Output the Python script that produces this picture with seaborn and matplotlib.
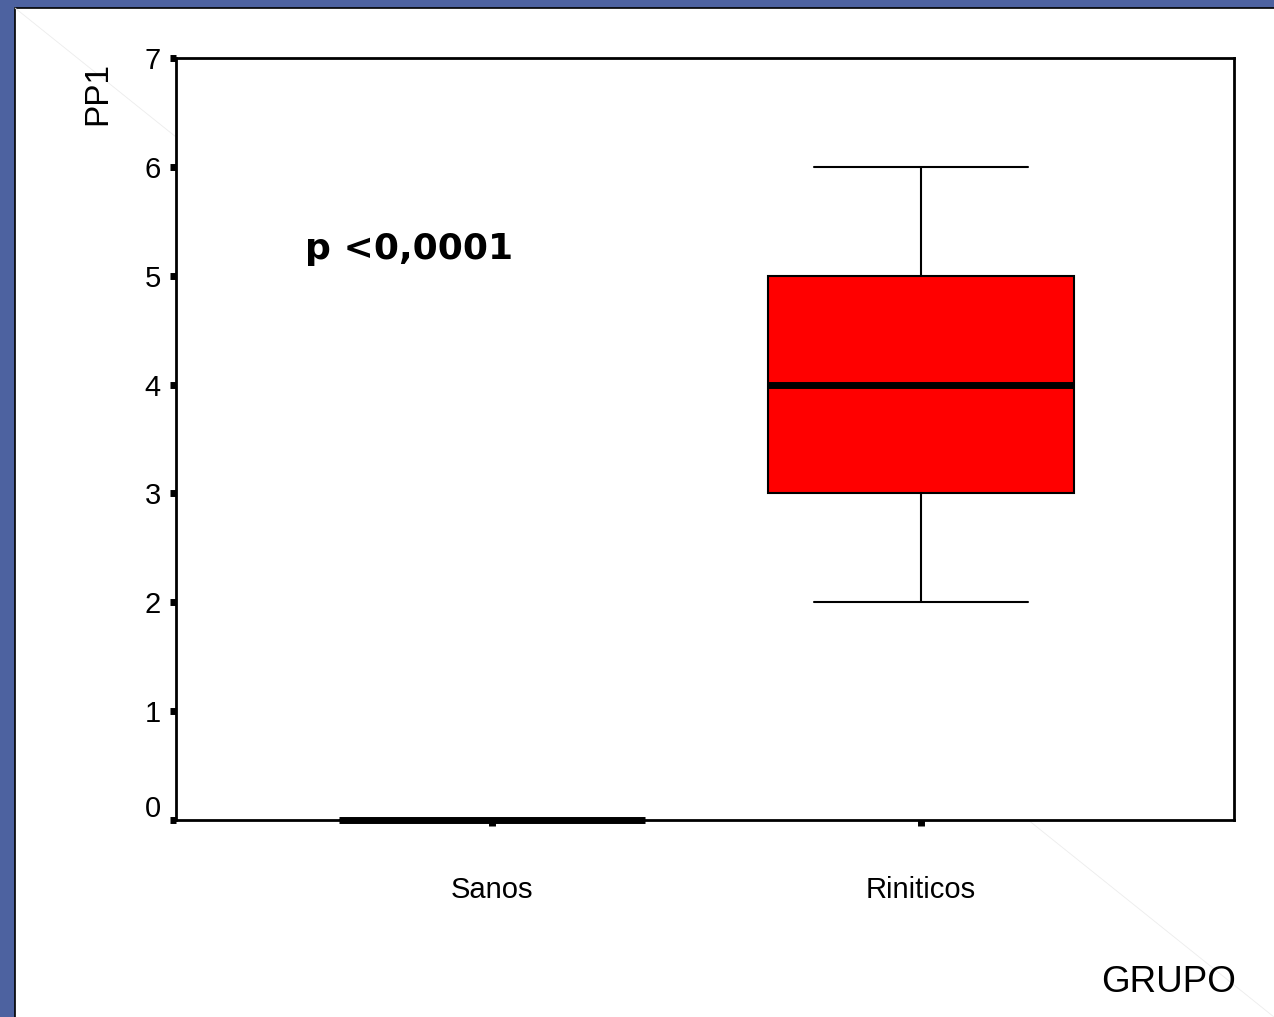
import numpy as np
import pandas as pd
import matplotlib
matplotlib.use("Agg")
import matplotlib.pyplot as plt
import matplotlib.transforms as mtransforms
from matplotlib.patches import Rectangle
from matplotlib.lines import Line2D
import seaborn as sns

# data
groups = ["Sanos", "Riniticos"]
sanos_pp1 = [0, 0, 0, 0, 0, 0, 0, 0, 0]
riniticos_pp1 = [2, 3, 3, 4, 4, 4, 5, 5, 6]
y_ticks = [0, 1, 2, 3, 4, 5, 6, 7]
p_text = "p <0,0001"

df = pd.DataFrame({
    "GRUPO": [groups[0]] * len(sanos_pp1) + [groups[1]] * len(riniticos_pp1),
    "PP1": sanos_pp1 + riniticos_pp1,
})

sns.set_style("white")
plt.rcParams["font.family"] = ["Liberation Sans", "DejaVu Sans"]

W, H = 1274, 1017
fig = plt.figure(figsize=(W / 100, H / 100), dpi=100)
fig.patch.set_facecolor("#4d62a0")

# white slide area with thin black edge on left/top
fig.patches.append(Rectangle((15 / W, -0.01), 1.0, 1 - 8 / H + 0.01,
                             transform=fig.transFigure, facecolor="white",
                             edgecolor="black", linewidth=1.2, zorder=0))
# faint diagonal artefact of the slide
fig.add_artist(Line2D([15 / W, 1.0], [1 - 8 / H, 0.0], color="#ececec",
                      lw=0.6, zorder=1))

ax = fig.add_axes([176 / W, 1 - 820 / H, (1234 - 176) / W, (820 - 58) / H])
ax.set_zorder(3)
ax.set_facecolor("white")

sns.boxplot(data=df, x="GRUPO", y="PP1", order=groups, color="#ff0000",
            saturation=1, width=0.713, linecolor="black", linewidth=1.5,
            fliersize=0, capwidths=0.5, medianprops={"linewidth": 5}, ax=ax)

# the collapsed Sanos box sits on the axis line, let it overlap the spine
for art in ax.lines + ax.patches:
    art.set_clip_on(False)

ax.set_xlim(-0.737, 1.73)
ax.set_ylim(0, 7)
ax.set_yticks(y_ticks)
ax.set_xlabel("")
ax.set_ylabel("")

for sp in ax.spines.values():
    sp.set_visible(True)
    sp.set_color("black")
    sp.set_linewidth(2)

ax.tick_params(axis="both", left=True, bottom=True, direction="out",
               length=4, width=5, color="black", labelsize=21,
               labelcolor="black")
ax.tick_params(axis="x", pad=36)
ax.tick_params(axis="y", pad=7)

# the "0" label sits a bit above its tick in the original
offset = mtransforms.ScaledTranslation(0, 14 / 100, fig.dpi_scale_trans)
lbl0 = ax.get_yticklabels()[0]
lbl0.set_transform(lbl0.get_transform() + offset)

ax.text(-0.436, 5.15, p_text, fontsize=26, fontweight="bold",
        family=["DejaVu Sans"], va="baseline", ha="left", color="black")

fig.text(98 / W, 1 - 62 / H, "PP1", rotation=90, fontsize=24,
         ha="center", va="top", color="black", zorder=4)
fig.text(1236 / W, 1 - 992 / H, "GRUPO", fontsize=26.5,
         ha="right", va="baseline", color="black", zorder=4)

fig.savefig("out.png", dpi=100)
